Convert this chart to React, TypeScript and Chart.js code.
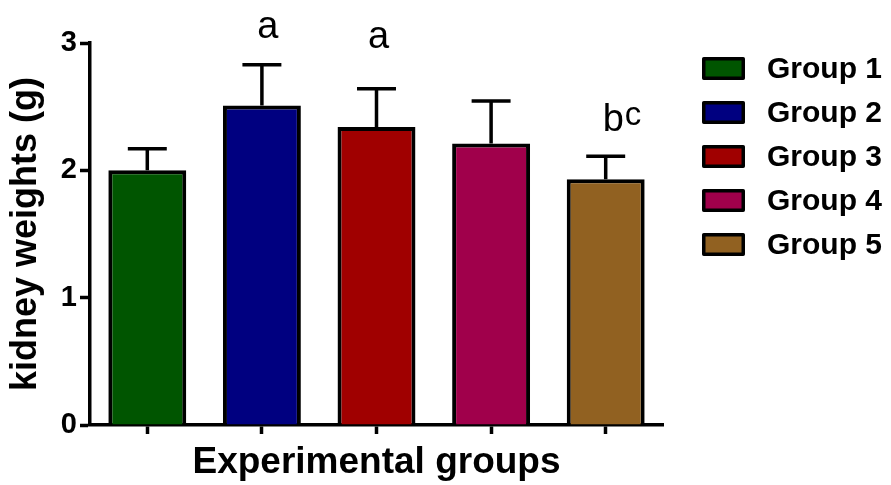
import React, { useEffect, useRef } from "react";
import { Chart, registerables } from "chart.js";

Chart.register(...registerables);

// ---- data ----
const categories = ["Group 1", "Group 2", "Group 3", "Group 4", "Group 5"];
const meanWeights = [2.0, 2.51, 2.34, 2.21, 1.93];
const errorValues = [0.17, 0.32, 0.3, 0.335, 0.18];
const sigLetters = ["", "a", "a", "", "b"];
const sigSuperscripts = ["", "", "", "", "c"];
const letterLevels: (number | null)[] = [null, 3.04, 2.96, null, 2.31];
const yTicks = [0, 1, 2, 3];
const barColors = ["#005500", "#000080", "#a00000", "#a0004b", "#916121"];

const FONT = "'Liberation Sans', Arial, Helvetica, sans-serif";

const errorBarPlugin = {
  id: "errorBars",
  afterDatasetsDraw(chart: any) {
    const meta = chart.getDatasetMeta(0);
    const y = chart.scales.y;
    const ctx = chart.ctx;
    ctx.save();
    ctx.strokeStyle = "#000";
    ctx.lineWidth = 3.5;
    ctx.lineCap = "butt";
    meta.data.forEach((bar: any, i: number) => {
      const base = y.getPixelForValue(meanWeights[i]);
      const top = y.getPixelForValue(meanWeights[i] + errorValues[i]);
      const half = bar.width / 4;
      ctx.beginPath();
      ctx.moveTo(bar.x, base);
      ctx.lineTo(bar.x, top);
      ctx.moveTo(bar.x - half, top);
      ctx.lineTo(bar.x + half, top);
      ctx.stroke();
    });
    ctx.restore();
  },
};

const letterPlugin = {
  id: "sigLetters",
  afterDatasetsDraw(chart: any, _args: any, opts: any) {
    const meta = chart.getDatasetMeta(0);
    const y = chart.scales.y;
    const ctx = chart.ctx;
    const offsets: number[] = opts.offsets || [];
    ctx.save();
    ctx.fillStyle = "#000";
    ctx.textBaseline = "alphabetic";
    meta.data.forEach((bar: any, i: number) => {
      const lvl = letterLevels[i];
      if (lvl === null || !sigLetters[i]) return;
      const by = y.getPixelForValue(lvl);
      ctx.font = `normal 38px ${FONT}`;
      const sup = sigSuperscripts[i];
      if (!sup) {
        ctx.textAlign = "center";
        ctx.fillText(sigLetters[i], bar.x + (offsets[i] || 0), by);
      } else {
        ctx.textAlign = "left";
        const x0 = bar.x + (offsets[i] || 0);
        ctx.fillText(sigLetters[i], x0, by);
        const w = ctx.measureText(sigLetters[i]).width;
        ctx.font = `normal 33px ${FONT}`;
        ctx.fillText(sup, x0 + w + 1, by - 6);
      }
    });
    ctx.restore();
  },
};

const sideLegendPlugin = {
  id: "sideLegend",
  afterDraw(chart: any, _args: any, opts: any) {
    const ctx = chart.ctx;
    const area = chart.chartArea;
    const labels: string[] = chart.data.labels;
    const colors: string[] = chart.data.datasets[0].backgroundColor;
    const x0 = area.right + opts.gap;
    const y0 = area.top + opts.top;
    ctx.save();
    labels.forEach((lab, i) => {
      const by = y0 + i * opts.rowHeight;
      ctx.fillStyle = colors[i];
      ctx.strokeStyle = "#000";
      ctx.lineWidth = 3.5;
      ctx.lineJoin = "round";
      ctx.beginPath();
      ctx.rect(x0 + 1.75, by + 1.75, opts.boxWidth - 3.5, opts.boxHeight - 3.5);
      ctx.fill();
      ctx.stroke();
      ctx.fillStyle = "#000";
      ctx.font = `bold 30px ${FONT}`;
      ctx.textAlign = "left";
      ctx.textBaseline = "middle";
      ctx.fillText(lab, x0 + opts.textGap, by + opts.boxHeight / 2 + 1);
    });
    ctx.restore();
  },
};

export default function App() {
  const canvasRef = useRef<HTMLCanvasElement | null>(null);

  useEffect(() => {
    if (!canvasRef.current) return;
    const chart = new Chart(canvasRef.current, {
      type: "bar",
      data: {
        labels: categories,
        datasets: [
          {
            data: meanWeights,
            backgroundColor: barColors,
            borderColor: "#000",
            borderWidth: 4,
            barPercentage: 0.68,
            categoryPercentage: 1.0,
          },
        ],
      },
      options: {
        responsive: false,
        animation: false,
        layout: { padding: { left: 0, top: 43, right: 228, bottom: 0 } },
        plugins: {
          legend: { display: false },
          tooltip: { enabled: false },
          sigLetters: { offsets: [0, 6, 2, 0, -3] },
          sideLegend: {
            gap: 39,
            top: 14,
            rowHeight: 44,
            boxWidth: 43,
            boxHeight: 23,
            textGap: 65,
          },
        } as any,
        scales: {
          x: {
            type: "category",
            offset: true,
            grid: {
              display: true,
              drawOnChartArea: false,
              drawTicks: true,
              tickLength: 9,
              tickWidth: 3.5,
              tickColor: "#000",
              offset: false,
            },
            border: { display: true, width: 3.5, color: "#000" },
            ticks: { display: false },
            title: {
              display: true,
              text: "Experimental groups",
              color: "#000",
              font: { family: FONT, size: 37, weight: "bold" },
              padding: { top: 2, bottom: 0 },
            },
            afterFit: (s: any) => {
              s.height = 60;
            },
          },
          y: {
            min: 0,
            max: 3,
            afterBuildTicks: (s: any) => {
              s.ticks = yTicks.map((v) => ({ value: v }));
            },
            ticks: {
              color: "#000",
              padding: 3,
              font: { family: FONT, size: 29, weight: "bold" },
            },
            grid: {
              display: true,
              drawOnChartArea: false,
              drawTicks: true,
              tickLength: 10,
              tickWidth: 3.5,
              tickColor: "#000",
            },
            border: { display: true, width: 3.5, color: "#000" },
            title: {
              display: true,
              text: "kidney weights (g)",
              color: "#000",
              font: { family: FONT, size: 36, weight: "bold" },
              padding: { top: 4, bottom: 0 },
            },
            afterFit: (s: any) => {
              s.width = 90;
            },
          },
        } as any,
      },
      plugins: [errorBarPlugin, letterPlugin, sideLegendPlugin],
    });
    return () => chart.destroy();
  }, []);

  return (
    <div style={{ position: "absolute", left: 0, top: 0, width: 891, height: 485, background: "#fff" }}>
      <canvas ref={canvasRef} width={891} height={485} style={{ display: "block" }} />
    </div>
  );
}
